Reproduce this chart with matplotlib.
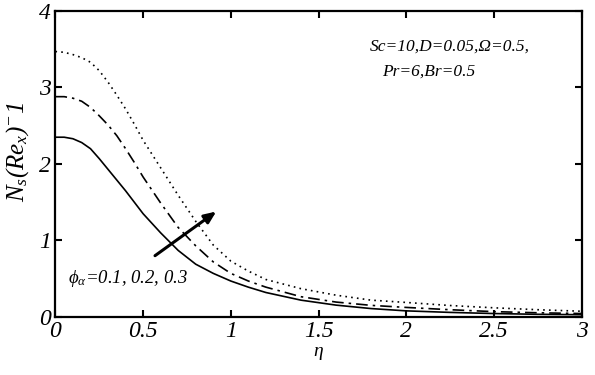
import matplotlib
matplotlib.use("Agg")
import matplotlib.pyplot as plt

eta = [0, 0.05, 0.1, 0.15, 0.2, 0.25, 0.3, 0.35, 0.4, 0.45, 0.5, 0.6, 0.7, 0.8, 0.9, 1.0, 1.1, 1.2, 1.4, 1.6, 1.8, 2.0, 2.25, 2.5, 2.75, 3.0]
ns_01 = [2.35, 2.35, 2.33, 2.28, 2.20, 2.07, 1.93, 1.79, 1.65, 1.50, 1.35, 1.10, 0.87, 0.69, 0.57, 0.47, 0.39, 0.32, 0.22, 0.155, 0.11, 0.08, 0.06, 0.045, 0.035, 0.03]
ns_02 = [2.88, 2.88, 2.86, 2.82, 2.74, 2.63, 2.51, 2.37, 2.20, 2.02, 1.83, 1.49, 1.17, 0.93, 0.72, 0.57, 0.47, 0.39, 0.265, 0.195, 0.152, 0.125, 0.095, 0.07, 0.055, 0.045]
ns_03 = [3.47, 3.46, 3.43, 3.39, 3.33, 3.22, 3.07, 2.90, 2.72, 2.52, 2.31, 1.95, 1.59, 1.25, 0.94, 0.73, 0.60, 0.49, 0.37, 0.285, 0.22, 0.19, 0.15, 0.12, 0.095, 0.075]

xticks = [0, 0.5, 1, 1.5, 2, 2.5, 3]
xticklabels = ["0", "0.5", "1", "1.5", "2", "2.5", "3"]
yticks = [0, 1, 2, 3, 4]
yticklabels = ["0", "1", "2", "3", "4"]

plt.rcParams['mathtext.fontset'] = 'custom'
plt.rcParams['mathtext.it'] = 'Liberation Serif:italic'
plt.rcParams['mathtext.rm'] = 'Liberation Serif:italic'
plt.rcParams['font.family'] = ['Liberation Serif', 'DejaVu Serif']

fig = plt.figure(figsize=(5.95, 3.75), dpi=100)
ax = fig.add_axes([0.0931, 0.1547, 0.8845, 0.816])

ax.plot(eta, ns_01, color='black', lw=1.2, linestyle='-')
ax.plot(eta, ns_02, color='black', lw=1.2, linestyle=(0, (7, 3, 1.5, 3)))
ax.plot(eta, ns_03, color='black', lw=1.2, linestyle=(0, (1, 2.5)))

ax.set_xlim(0, 3)
ax.set_ylim(0, 4)
ax.set_xticks(xticks)
ax.set_xticklabels(xticklabels, style='italic', fontsize=17)
ax.set_yticks(yticks)
ax.set_yticklabels(yticklabels, style='italic', fontsize=17)
ax.tick_params(direction='in', length=5, width=1.5, top=True, right=True, pad=3)
for s in ax.spines.values():
    s.set_linewidth(1.6)

ax.set_xlabel(r'$\eta$', fontsize=14, labelpad=2)
ax.set_ylabel(r'$N_s(Re_x)^{-}1$', fontsize=18)
ax.yaxis.set_label_coords(-0.046, 0.54)

ax.annotate('', xy=(0.93, 1.40), xytext=(0.555, 0.78),
            arrowprops=dict(arrowstyle='-|>,head_length=0.7,head_width=0.3', color='black', lw=2.2))

ax.text(0.07, 0.50, r'$\phi_{\alpha}$=0.1, 0.2, 0.3', fontsize=13.5, style='italic', va='center', ha='left')
ax.text(1.79, 3.53, 'Sc=10,D=0.05,Ω=0.5,', fontsize=12.5, style='italic', va='center', ha='left')
ax.text(1.86, 3.21, 'Pr=6,Br=0.5', fontsize=12.5, style='italic', va='center', ha='left')

fig.savefig('out.png', dpi=100)
